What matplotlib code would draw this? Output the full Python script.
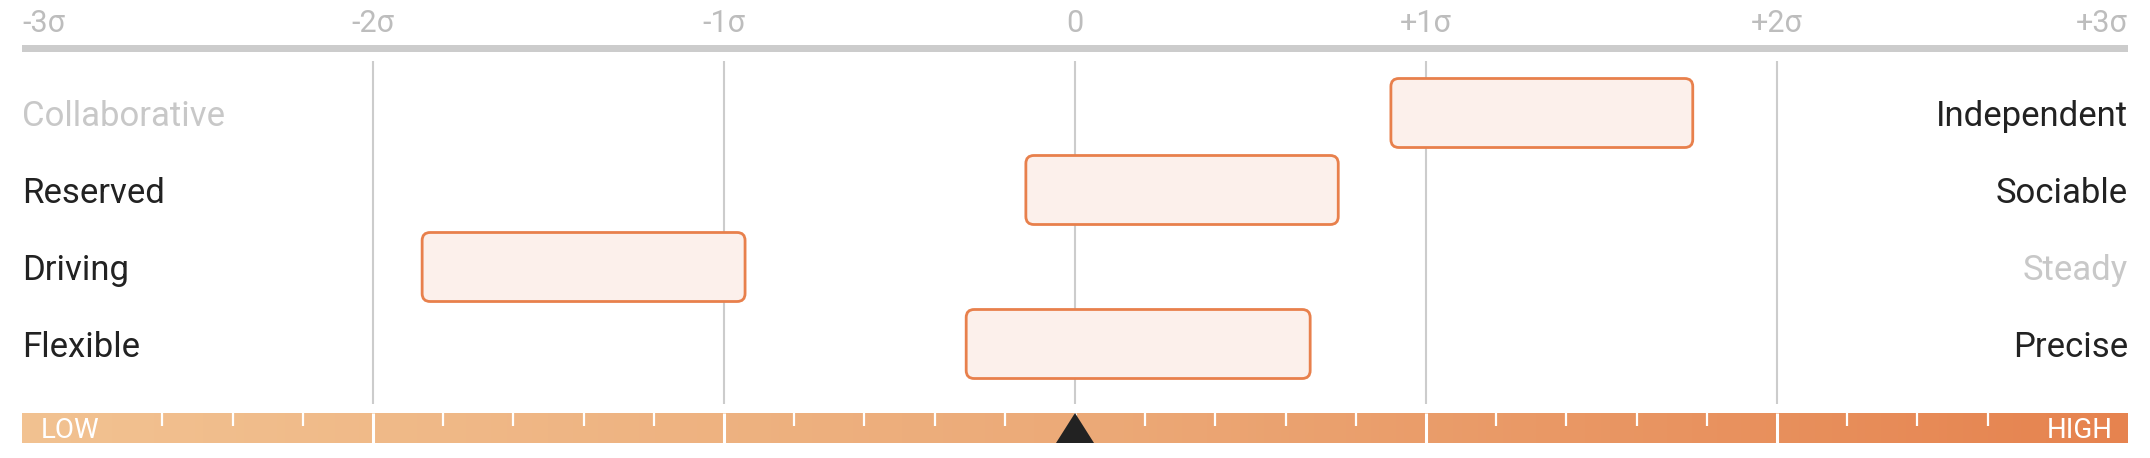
import numpy as np
import matplotlib
matplotlib.use("Agg")
import matplotlib.pyplot as plt
from matplotlib.patches import FancyBboxPatch, Rectangle, Polygon
from matplotlib.colors import LinearSegmentedColormap

# ---------------- data ----------------
left_traits = ["Collaborative", "Reserved", "Driving", "Flexible"]
right_traits = ["Independent", "Sociable", "Steady", "Precise"]
range_low = [0.90, -0.14, -1.86, -0.31]
range_high = [1.76, 0.75, -0.94, 0.67]
tick_values = [-3, -2, -1, 0, 1, 2, 3]
tick_labels = ["-3σ", "-2σ", "-1σ", "0", "+1σ", "+2σ", "+3σ"]
marker_value = 0.0
scale_labels = ["LOW", "HIGH"]

# ---------------- style ----------------
W, H, DPI = 2150, 458, 100
DARK = "#222222"
DIM = "#c8c8c8"
GRID = "#cccccc"
EDGE = "#e8804c"
FILL = "#fcf0eb"
FONT = "Roboto"

fig = plt.figure(figsize=(W / DPI, H / DPI), dpi=DPI)
ax = fig.add_axes([22 / W, 0, 2106 / W, 1])
ax.set_xlim(-3, 3)
ax.set_ylim(H, 0)
ax.axis("off")

px_per_sigma = 2106 / 6.0

# tick labels
for v, lab in zip(tick_values, tick_labels):
    ha = "left" if v == tick_values[0] else ("right" if v == tick_values[-1] else "center")
    ax.text(v, 32, lab, ha=ha, va="baseline", fontsize=22, color="#bdbdbd", family=FONT)

# top gray rule
ax.add_patch(Rectangle((-3, 44.5), 6, 7, facecolor=GRID, edgecolor="none"))

# gridlines
for v in tick_values[1:-1]:
    ax.plot([v, v], [61, 404], color=GRID, lw=1.5, solid_capstyle="butt", zorder=1)

# rows
row0, row_step, half_h = 113, 77, 34.5
for i, (lt, rt, lo, hi) in enumerate(zip(left_traits, right_traits, range_low, range_high)):
    yc = row0 + i * row_step
    lcol = DIM if lo > 0 else DARK
    rcol = DIM if hi < 0 else DARK
    ax.text(-3, yc + 13, lt, ha="left", va="baseline", fontsize=25, color=lcol, family=FONT)
    ax.text(3, yc + 13, rt, ha="right", va="baseline", fontsize=25, color=rcol, family=FONT)
    r = 8 / px_per_sigma
    box = FancyBboxPatch((lo, yc - half_h), hi - lo, 2 * half_h,
                         boxstyle=f"round,pad=0,rounding_size={r}",
                         mutation_aspect=px_per_sigma,
                         facecolor=FILL, edgecolor=EDGE, lw=2.0, zorder=3)
    ax.add_patch(box)

# bottom gradient scale
y0b, y1b = 413, 443
cmap = LinearSegmentedColormap.from_list("scale", ["#f2c291", "#ecaa78", "#e6834f"])
grad = np.linspace(0, 1, 512).reshape(1, -1)
ax.imshow(grad, cmap=cmap, aspect="auto", extent=(-3, 3, y1b, y0b), zorder=2)
ax.set_xlim(-3, 3)
ax.set_ylim(H, 0)

# major separators
for v in tick_values[1:-1]:
    ax.plot([v, v], [y0b, y1b], color="white", lw=2.2, solid_capstyle="butt", zorder=4)
# minor ticks
for k in range(-3, 3):
    for m in (0.2, 0.4, 0.6, 0.8):
        v = k + m
        if v < -2.7 or v > 2.7:
            continue
        ax.plot([v, v], [y0b, y0b + 13], color="white", lw=1.6, solid_capstyle="butt", zorder=4)

ax.text(-3 + 19 / px_per_sigma, 438, scale_labels[0], ha="left", va="baseline",
        fontsize=20, color="white", family=FONT, zorder=5)
ax.text(3 - 15 / px_per_sigma, 438, scale_labels[1], ha="right", va="baseline",
        fontsize=20, color="white", family=FONT, zorder=5)

# marker triangle
tw = 19 / px_per_sigma
ax.add_patch(Polygon([(marker_value - tw, y1b), (marker_value + tw, y1b), (marker_value, y0b)],
                     closed=True, facecolor=DARK, edgecolor="none", zorder=6))

fig.savefig("out.png", dpi=DPI)
